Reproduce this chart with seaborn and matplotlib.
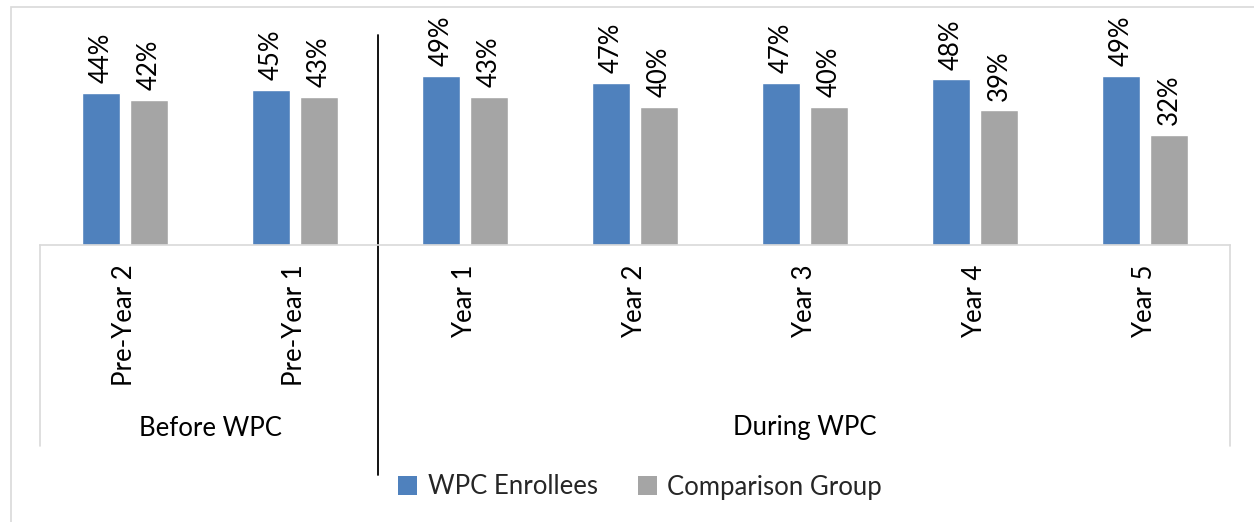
import matplotlib
matplotlib.use("Agg")
import matplotlib.pyplot as plt
import seaborn as sns
import pandas as pd
from matplotlib.patches import Rectangle, Patch

# ---- data ----
categories = ["Pre-Year 2", "Pre-Year 1", "Year 1", "Year 2", "Year 3", "Year 4", "Year 5"]
groups = ["Before WPC", "During WPC"]
group_members = [["Pre-Year 2", "Pre-Year 1"], ["Year 1", "Year 2", "Year 3", "Year 4", "Year 5"]]
series = ["WPC Enrollees", "Comparison Group"]
enrollees = [0.44, 0.45, 0.49, 0.47, 0.47, 0.48, 0.49]
comparison = [0.42, 0.43, 0.43, 0.40, 0.40, 0.39, 0.32]
colors = ["#4F81BD", "#A5A5A5"]

sns.set_theme(style="white")
plt.rcParams['font.family'] = ['Lato', 'DejaVu Sans']

df = pd.DataFrame({
    "Category": categories * 2,
    "Series": [series[0]] * len(categories) + [series[1]] * len(categories),
    "Value": enrollees + comparison,
})

W, H = 1254, 522
fig = plt.figure(figsize=(W / 100, H / 100), dpi=100)
ax = fig.add_axes([40 / W, (H - 245) / H, 1190 / W, 207 / H])

sns.barplot(data=df, x="Category", y="Value", hue="Series", order=categories,
            hue_order=series, palette=colors, width=96 / 170, gap=1 - 38 / 48,
            saturation=1, errorbar=None, legend=False, ax=ax)

FS = 18.5
for cont in ax.containers:
    vals = [b.get_height() for b in cont]
    ax.bar_label(cont, labels=[f"{v:.0%}" for v in vals], rotation=90,
                 padding=7, fontsize=FS, color="black")

ax.set_xlim(-0.5, len(categories) - 0.5)
ax.set_ylim(0, 0.6)
ax.set_yticks([])
ax.set_xlabel("")
ax.set_ylabel("")
for s in ["top", "left", "right"]:
    ax.spines[s].set_visible(False)
ax.spines["bottom"].set_color("#D9D9D9")
ax.spines["bottom"].set_linewidth(1.2)
ax.tick_params(axis="x", length=0, pad=14, labelrotation=90, labelsize=FS, colors="black")

tr = ax.get_xaxis_transform()
box_bottom = (245 - 446) / 207
for xv in [-0.5, len(categories) - 0.5]:
    ax.plot([xv, xv], [0, box_bottom], transform=tr, clip_on=False,
            color="#D9D9D9", linewidth=1.2)
# separator between groups
sep = len(group_members[0]) - 0.5
ax.plot([sep - 0.012, sep - 0.012], [(245 - 35) / 207, (245 - 475) / 207], transform=tr,
        clip_on=False, color="black", linewidth=1.3)

# group labels
start = 0
for g, mem in zip(groups, group_members):
    cx = (start - 0.5 + start + len(mem) - 0.5) / 2
    ax.text(cx, (245 - 428) / 207, g, transform=tr, ha="center", va="center",
            fontsize=FS, color="black")
    start += len(mem)

# legend
handles = [Patch(facecolor=c, edgecolor="none", label=s) for c, s in zip(colors, series)]
fig.legend(handles=handles, loc="center", bbox_to_anchor=(640 / W, 1 - 487 / H),
           ncol=2, frameon=False, fontsize=FS, handlelength=0.75, handleheight=0.75,
           handletextpad=0.4, columnspacing=1.55)

# outer chart frame
fig.patches.append(Rectangle((11 / W, -0.1), 1.2, (1 - 7 / H) + 0.1,
                             transform=fig.transFigure, fill=False,
                             edgecolor="#D9D9D9", linewidth=1.2))

fig.savefig("out.png", dpi=100)
